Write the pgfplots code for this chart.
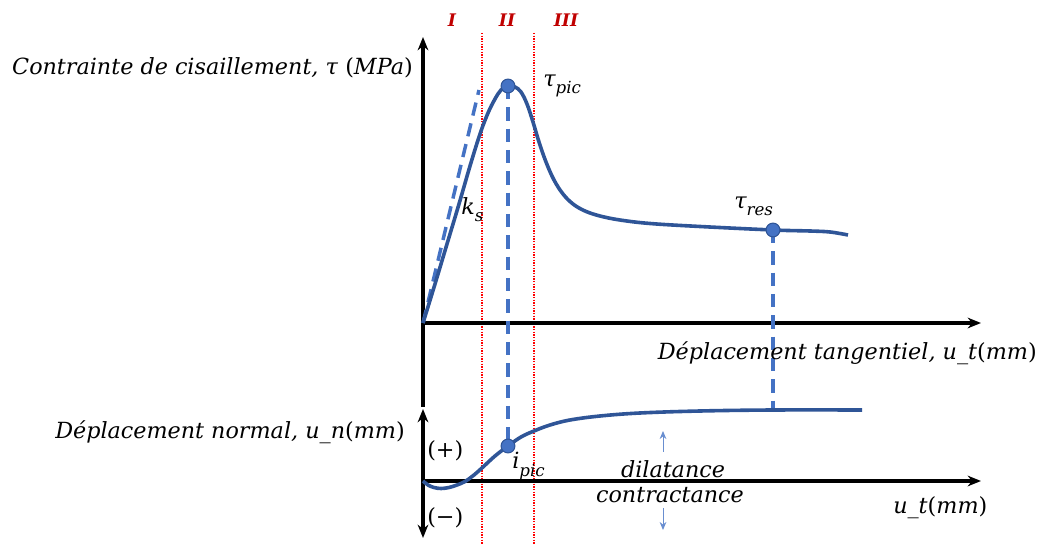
\documentclass[border=0pt]{standalone}
\usepackage{fontspec}
\setmainfont{DejaVu Serif}
\usepackage{pgfplots}
\pgfplotsset{compat=1.18}
\usetikzlibrary{arrows.meta}
\definecolor{curve}{HTML}{2F5597}
\definecolor{lblue}{HTML}{4472C4}
\definecolor{zred}{HTML}{C00000}
\newcommand{\sub}[1]{\raisebox{-0.32em}{\fontsize{12.5}{14}\selectfont #1}}

% coordinates are read in picture pixels (1040 x 544), y counted downwards
\pgfplotstableread{
x y
423 323
435 284
447 244
459 204
470 166
480 134
488 113
495 99
501 90
508 86
515 87
521 92
527 104
533 122
539 142
546 162
554 180
563 194
573 204
585 211
600 216
620 220
650 223.5
700 226.5
773 230
810 231
830 232
848 235
}\shear

\pgfplotstableread{
x y
423 481
428 485
434 487.5
441 488.5
449 487.5
457 485
465 481.5
474 475
483 467
495 456
508 446
521 437
534 431
550 425
570 420
600 416
640 413
700 411
773 410
862 410
}\normal

\begin{document}
\begin{tikzpicture}
\begin{axis}[
  width=780pt, height=408pt, scale only axis,
  xmin=0, xmax=1040, ymin=0, ymax=544, y dir=reverse,
  hide axis, clip=false,
]
\path (axis cs:0,0) rectangle (axis cs:1040,544);

% zones
\addplot[red, line width=1.2pt, dash pattern=on 1pt off 1pt] coordinates {(482,33) (482,544)};
\addplot[red, line width=1.2pt, dash pattern=on 1pt off 1pt] coordinates {(534,33) (534,544)};
\node[text=zred, font=\fontsize{13}{15}\selectfont\bfseries\itshape] at (axis cs:452,20) {I};
\node[text=zred, font=\fontsize{13}{15}\selectfont\bfseries\itshape] at (axis cs:507,20) {II};
\node[text=zred, font=\fontsize{13}{15}\selectfont\bfseries\itshape] at (axis cs:566,20) {III};

% axes
\addplot[black, line width=2.6pt, -{Stealth[length=10pt,width=8pt]}] coordinates {(423,407) (423,37)};
\addplot[black, line width=2.6pt, -{Stealth[length=10pt,width=8pt]}] coordinates {(423,323) (981,323)};
\addplot[black, line width=2.6pt, {Stealth[length=10pt,width=8pt]}-{Stealth[length=10pt,width=8pt]}] coordinates {(423,409) (423,538)};
\addplot[black, line width=2.6pt, -{Stealth[length=10pt,width=8pt]}] coordinates {(423,481) (981,481)};

% tangent and projections
\addplot[lblue, line width=2.6pt, dash pattern=on 10pt off 6pt] coordinates {(423,323) (479,90)};
\addplot[lblue, line width=2.6pt, dash pattern=on 10pt off 6pt] coordinates {(508,86) (508,446)};
\addplot[lblue, line width=2.6pt, dash pattern=on 10pt off 6pt] coordinates {(773,230) (773,410)};

% curves
\addplot[curve, line width=2.7pt, smooth, tension=0.6] table {\shear};
\addplot[curve, line width=2.7pt, smooth, tension=0.6] table {\normal};
\addplot[only marks, mark=*, mark size=5.2pt, mark options={fill=lblue, draw=curve, line width=0.8pt}]
  coordinates {(508,86) (773,230) (508,446)};

% small arrows
\addplot[lblue!80, line width=0.7pt, -{Stealth[length=6pt,width=5pt]}] coordinates {(663,452) (663,431)};
\addplot[lblue!80, line width=0.7pt, -{Stealth[length=6pt,width=5pt]}] coordinates {(663,508) (663,530)};

% labels
\begin{scope}[font=\fontsize{16.7}{20}\selectfont\itshape]
\node[anchor=east, inner sep=0pt] at (axis cs:413,68) {Contrainte de cisaillement, τ \textup{(}MPa\textup{)}};
\node[anchor=east, inner sep=0pt] at (axis cs:1037,353) {Déplacement tangentiel, u\_t\textup{(}mm\textup{)}};
\node[anchor=east, inner sep=0pt] at (axis cs:405,432) {Déplacement normal, u\_n\textup{(}mm\textup{)}};
\node[anchor=west, inner sep=0pt] at (axis cs:893,508) {u\_t\textup{(}mm\textup{)}};
\node[anchor=west, inner sep=0pt] at (axis cs:543,86) {τ\sub{pic}};
\node[anchor=west, inner sep=0pt] at (axis cs:734,206) {τ\sub{res}};
\node[anchor=west, inner sep=0pt] at (axis cs:461,210) {k\sub{s}};
\node[anchor=west, inner sep=0pt] at (axis cs:512,466) {i\sub{pic}};
\node[anchor=west, inner sep=0pt, font=\fontsize{16.7}{20}\selectfont] at (axis cs:427,451) {(+)};
\node[anchor=west, inner sep=0pt, font=\fontsize{16.7}{20}\selectfont] at (axis cs:427,518) {(−)};
\node[inner sep=0pt] at (axis cs:673,469) {dilatance};
\node[inner sep=0pt] at (axis cs:670,495) {contractance};
\end{scope}
\end{axis}
\end{tikzpicture}
\end{document}
